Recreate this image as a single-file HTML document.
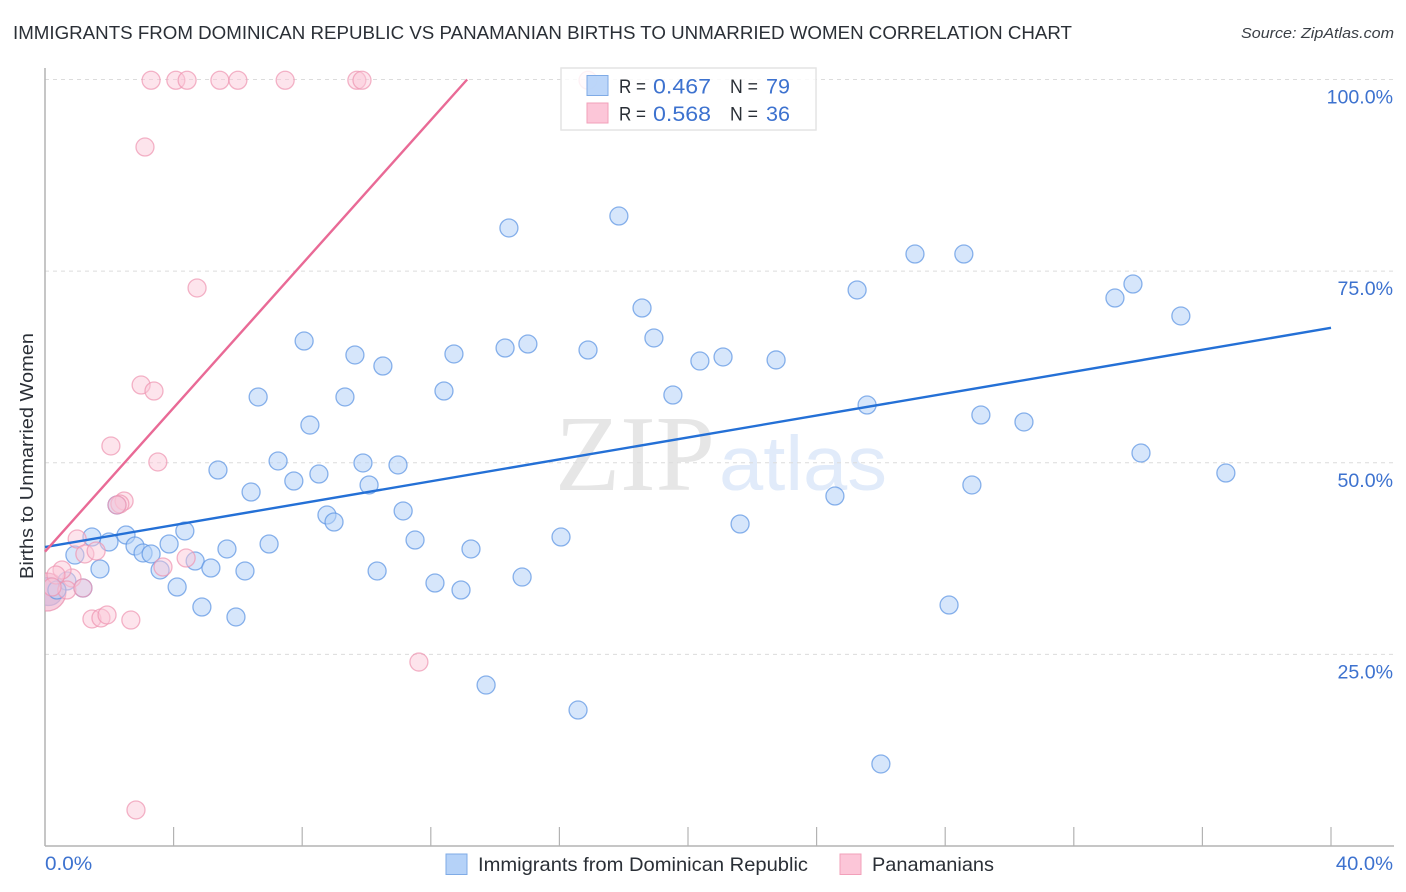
<!DOCTYPE html>
<html>
<head>
<meta charset="utf-8">
<title>Correlation chart</title>
<style>
html,body{margin:0;padding:0;background:#fff;width:1406px;height:892px;overflow:hidden}
svg{display:block}
text{font-family:"Liberation Sans",sans-serif}
</style>
</head>
<body>
<svg id="chart" width="1406" height="892" viewBox="0 0 1406 892" xmlns="http://www.w3.org/2000/svg">
  <defs><clipPath id="plot-clip"><rect x="45" y="60" width="1349" height="786"/></clipPath></defs>
  <text x="13" y="39" font-size="18.5" fill="#2a2f36" textLength="1059" lengthAdjust="spacingAndGlyphs">IMMIGRANTS FROM DOMINICAN REPUBLIC VS PANAMANIAN BIRTHS TO UNMARRIED WOMEN CORRELATION CHART</text>
  <text x="1241" y="38" font-size="15" font-style="italic" fill="#3a3f46" textLength="153" lengthAdjust="spacingAndGlyphs">Source: ZipAtlas.com</text>
  <g id="watermark">
    <text x="555" y="490" font-size="108" fill="#e6e6e6" style="font-family:'Liberation Serif',serif" textLength="160" lengthAdjust="spacingAndGlyphs">ZIP</text>
    <text x="719" y="490" font-size="77" fill="#e1ebfa" textLength="168" lengthAdjust="spacingAndGlyphs">atlas</text>
  </g>
  <g id="grid"></g>
  <g id="axes"></g>
  <g id="points" clip-path="url(#plot-clip)"></g>
  <g id="trends"></g>
  <g id="labels"></g>
  <text transform="translate(33,579) rotate(-90)" font-size="18.5" fill="#2a2f36" textLength="246" lengthAdjust="spacingAndGlyphs">Births to Unmarried Women</text>

  <g>
    <rect x="561" y="68" width="255" height="62" fill="#ffffff" fill-opacity="0.82" stroke="#e4e4e4" stroke-width="1.5"/>
    <rect x="587" y="75.500" width="21" height="20" fill="#b5d2f8" fill-opacity="0.9" stroke="#7fabe6"/>
    <rect x="587" y="103" width="21" height="20" fill="#fcc6d8" stroke="#f2a0ba"/>
    <text x="619" y="93" font-size="19.500" fill="#2a2f36" textLength="27" lengthAdjust="spacingAndGlyphs">R =</text>
    <text x="653" y="93.500" font-size="21" fill="#3d72cf" textLength="58" lengthAdjust="spacingAndGlyphs">0.467</text>
    <text x="730" y="93" font-size="19.500" fill="#2a2f36" textLength="28" lengthAdjust="spacingAndGlyphs">N =</text>
    <text x="766" y="93.500" font-size="21" fill="#3d72cf" textLength="24" lengthAdjust="spacingAndGlyphs">79</text>
    <text x="619" y="120.500" font-size="19.500" fill="#2a2f36" textLength="27" lengthAdjust="spacingAndGlyphs">R =</text>
    <text x="653" y="121" font-size="21" fill="#3d72cf" textLength="58" lengthAdjust="spacingAndGlyphs">0.568</text>
    <text x="730" y="120.500" font-size="19.500" fill="#2a2f36" textLength="28" lengthAdjust="spacingAndGlyphs">N =</text>
    <text x="766" y="121" font-size="21" fill="#3d72cf" textLength="24" lengthAdjust="spacingAndGlyphs">36</text>
  </g>

  <g>
    <rect x="446" y="854" width="21" height="20.500" fill="#b5d2f8" stroke="#7fabe6"/>
    <text x="478" y="871" font-size="19.500" fill="#2a2f36" textLength="330" lengthAdjust="spacingAndGlyphs">Immigrants from Dominican Republic</text>
    <rect x="840" y="854" width="21" height="20.500" fill="#fcc6d8" stroke="#f2a0ba"/>
    <text x="872" y="871" font-size="19.500" fill="#2a2f36" textLength="122" lengthAdjust="spacingAndGlyphs">Panamanians</text>
  </g>
</svg>
<script>
const xTicks = [0,4,8,12,16,20,24,28,32,36,40];
const yTicks = [25,50,75,100];
const yTickLabels = ["25.0%","50.0%","75.0%","100.0%"];
const xEndLabels = ["0.0%","40.0%"];

const dominicanX = [14.43,17.85,27.06,28.58,33.84,33.28,25.26,35.33,18.57,18.94,8.06,9.64,10.51,12.72,14.31,15.02,16.89,20.37,21.09,22.74,19.53,12.41,9.33,6.63,25.57,29.11,30.45,8.24,34.09,36.73,7.25,9.89,10.98,5.38,8.52,7.74,10.08,6.41,28.83,24.57,8.77,8.99,11.14,21.62,4.35,1.46,2.52,1.99,2.80,3.86,6.97,11.51,16.05,13.25,5.66,3.05,3.30,0.93,4.67,1.71,5.16,3.58,6.22,10.33,14.84,12.13,12.94,4.11,1.18,4.88,5.94,28.12,13.72,16.58,26.00,2.24,0.68,0.37];
const dominicanY = [80.63,82.19,77.23,77.23,73.32,71.49,72.54,69.15,70.19,66.28,65.88,64.06,62.62,64.19,64.97,65.49,64.71,63.27,63.80,63.41,58.84,59.36,58.58,58.58,57.53,56.23,55.32,54.92,51.27,48.66,50.23,49.97,49.71,49.05,48.53,47.62,47.10,46.18,47.10,45.66,43.18,42.27,43.71,42.01,41.10,40.31,40.57,39.66,39.14,39.40,39.40,39.92,40.31,38.75,38.75,38.23,38.10,37.96,37.18,36.14,36.27,36.01,35.88,35.88,35.09,34.31,33.40,33.79,33.66,31.18,29.88,31.44,21.00,17.74,10.70,44.49,34.57,33.40];
const dominicanLargeX = [0.12];
const dominicanLargeY = [33.2];

const panamanianX = [3.30,4.07,4.42,5.44,6.00,7.47,9.70,9.86,16.89,3.11,4.73,2.99,3.39,2.05,3.51,2.46,2.33,2.24,1.00,1.24,1.59,3.67,4.39,0.84,0.53,0.34,0.68,1.18,0.22,1.46,1.74,1.93,2.67,11.63,2.83];
const panamanianY = [99.9,99.9,99.9,99.9,99.9,99.9,99.9,99.9,99.9,91.19,72.80,60.14,59.36,52.19,50.10,45.01,44.62,44.49,40.05,38.10,38.49,36.40,37.57,34.96,36.01,35.36,33.40,33.66,33.79,29.62,29.75,30.14,29.48,24.00,4.70];
const panamanianLargeX = [0.06];
const panamanianLargeY = [33.14];

const dominicanTrendX = [0,40];
const dominicanTrendY = [39.0,67.6];
const panamanianTrendX = [0,13.13];
const panamanianTrendY = [38.4,100];

const NS = "http://www.w3.org/2000/svg";
const sx = v => 45 + (v / 40) * 1286;
const sy = v => 846 - (v / 100) * 766.5;

function make(parent, tag, attrs) {
  const el = document.createElementNS(NS, tag);
  for (const k in attrs) el.setAttribute(k, attrs[k]);
  parent.appendChild(el);
  return el;
}

function stretch(el, factor) {
  el.setAttribute("textLength", (el.getComputedTextLength() * factor).toFixed(1));
  el.setAttribute("lengthAdjust", "spacingAndGlyphs");
}

const grid = document.getElementById("grid");
const axes = document.getElementById("axes");
const points = document.getElementById("points");
const trends = document.getElementById("trends");
const labels = document.getElementById("labels");

yTicks.forEach((t, i) => {
  const line = make(grid, "line", {x1: 45, x2: 1394, y1: sy(t), y2: sy(t), stroke: "#dcdcdc", "stroke-width": 1, "stroke-dasharray": "4 4"});
  
  
  const label = make(labels, "text", {x: 1393, y: sy(t) + 24, "font-size": 19, fill: "#3d72cf", "text-anchor": "end"});
  
  
  label.textContent = yTickLabels[i];
  stretch(label, 1.03);
});

const yAxis = make(axes, "line", {x1: 45, x2: 45, y1: 68, y2: 846, stroke: "#b3b3b3", "stroke-width": 1.5});


const xAxis = make(axes, "line", {x1: 45, x2: 1394, y1: 846, y2: 846, stroke: "#b3b3b3", "stroke-width": 1.5});



xTicks.slice(1).forEach(t => {
  const tick = make(axes, "line", {x1: sx(t), x2: sx(t), y1: 827, y2: 846, stroke: "#b3b3b3", "stroke-width": 1.2});
  
  
});

const xLabelLeft = make(labels, "text", {x: sx(xTicks[0]), y: 870, "font-size": 19, fill: "#3d72cf"});


xLabelLeft.textContent = xEndLabels[0];
stretch(xLabelLeft, 1.09);
const xLabelRight = make(labels, "text", {x: 1393, y: 870, "font-size": 19, fill: "#3d72cf", "text-anchor": "end"});


xLabelRight.textContent = xEndLabels[1];
stretch(xLabelRight, 1.06);

function drawPoints(xs, ys, r, fill, stroke, fillOpacity, pointName) {
  xs.forEach((x, i) => {
    const c = make(points, "circle", {cx: sx(x), cy: sy(ys[i]), r: r, fill: fill, "fill-opacity": fillOpacity, stroke: stroke, "stroke-opacity": 0.7, "stroke-width": 1.3});
    
    
  });
}

drawPoints(dominicanLargeX, dominicanLargeY, 14, "#a9c6f2", "#6d9fe3", 0.7, "dominican-point-large");
drawPoints(panamanianLargeX, panamanianLargeY, 19, "#f3b4cc", "#e88cab", 0.65, "panamanian-point-large");
drawPoints(dominicanX, dominicanY, 9, "#b5d2f8", "#5a93e2", 0.55, "dominican-point");
drawPoints(panamanianX, panamanianY, 9, "#fac6d8", "#ee94b1", 0.48, "panamanian-point");

const dominicanLine = make(trends, "line", {x1: sx(dominicanTrendX[0]), y1: sy(dominicanTrendY[0]), x2: sx(dominicanTrendX[1]), y2: sy(dominicanTrendY[1]), stroke: "#2470d6", "stroke-width": 2.4});


const panamanianLine = make(trends, "line", {x1: sx(panamanianTrendX[0]), y1: sy(panamanianTrendY[0]), x2: sx(panamanianTrendX[1]), y2: sy(panamanianTrendY[1]), stroke: "#e96a96", "stroke-width": 2.4});


</script>
</body>
</html>
